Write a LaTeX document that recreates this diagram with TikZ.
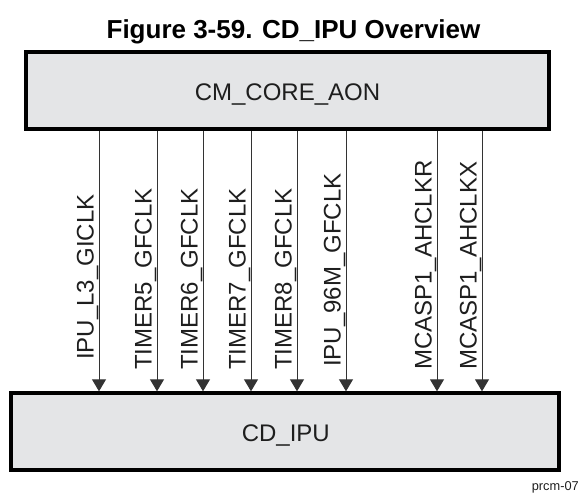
\documentclass[tikz,border=0pt]{standalone}
\usepackage{fontspec}
\setmainfont{Liberation Sans}
\usetikzlibrary{arrows.meta}
\definecolor{boxfill}{RGB}{228,229,231}
\definecolor{txt}{RGB}{30,30,30}
\begin{document}
\begin{tikzpicture}[x=1pt,y=-1pt,
  blk/.style={draw=black,line width=4pt,fill=boxfill,inner sep=0pt,
    text=txt,font=\fontsize{24}{28}\selectfont},
  clk/.style={draw=black!80,line width=1pt,-{Triangle[width=14pt,length=12pt]}},
  lbl/.style={rotate=90,anchor=base west,inner sep=0pt,text=txt,
    font=\fontsize{24}{28}\selectfont},
  ttl/.style={font=\fontsize{26}{30}\selectfont\bfseries,anchor=base,inner sep=0pt}]
\useasboundingbox (0,0) rectangle (580,497);
\node[ttl] (title) at (293.5,38.5) {Figure 3-59. CD\_IPU Overview};
\node[blk,minimum width=522.7pt,minimum height=76.5pt] (core) at (287.35,90.75) {};
\node[blk,minimum width=547.7pt,minimum height=76.7pt] (ipu) at (285.15,431.65) {};
\node[anchor=base,inner sep=0pt,text=txt,font=\fontsize{24}{28}\selectfont] (coret) at (287.5,100.5) {CM\_CORE\_AON};
\node[anchor=base,inner sep=0pt,text=txt,font=\fontsize{24}{28}\selectfont] (iput) at (285.8,441.5) {CD\_IPU};
\foreach \n/\x/\y/\t in {a/99/360/IPU\_L3\_GICLK, b/157/370/TIMER5\_GFCLK, c/203/370/TIMER6\_GFCLK,
  d/251/370/TIMER7\_GFCLK, e/297/370/TIMER8\_GFCLK, f/346/367/IPU\_96M\_GFCLK,
  g/437/370/MCASP1\_AHCLKR, h/482/370/MCASP1\_AHCLKX}{
  \coordinate (x\n) at (\x,0);
  \draw[clk] (core.south -| x\n) -- (ipu.north -| x\n);
  \node[lbl] (l\n) at (\x-5.5,\y) {\t};
}
\node[anchor=base east,inner sep=0pt,text=txt,font=\fontsize{12.8}{15}\selectfont] (fig) at (579,490) {prcm-07};
\end{tikzpicture}
\end{document}
